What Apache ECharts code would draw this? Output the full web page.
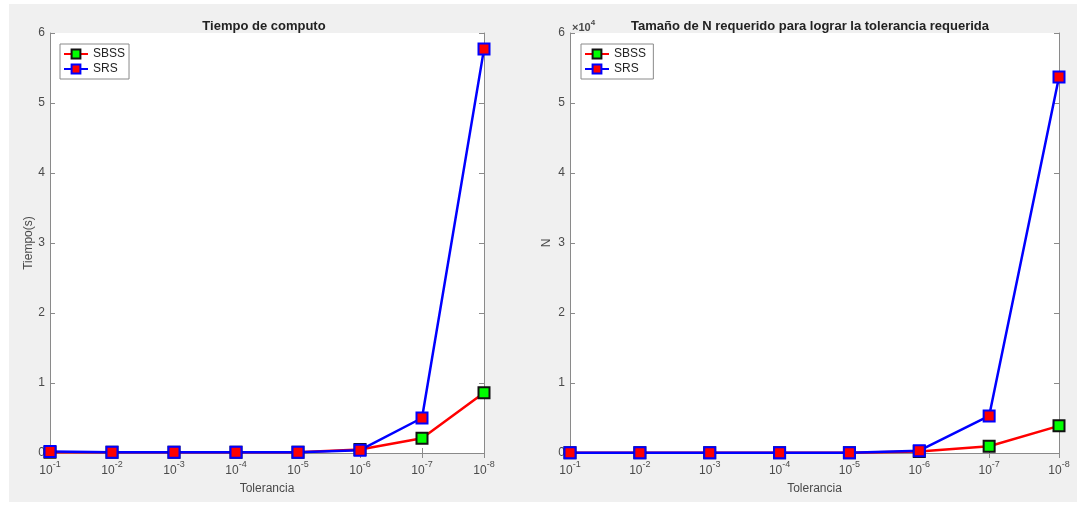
<!DOCTYPE html>
<html><head><meta charset="utf-8">
<script src="https://cdn.jsdelivr.net/npm/echarts@6/dist/echarts.min.js"></script>
<style>
html,body{margin:0;padding:0;background:#fff;}
#bg{position:absolute;left:9px;top:4px;width:1068px;height:498px;background:#f0f0f0;}
#c{position:absolute;left:0;top:0;width:1084px;height:508px;}
</style></head>
<body><div id="bg"></div><div id="c"></div>
<script>
const tolerances = ['-1','-2','-3','-4','-5','-6','-7','-8'];
const timeSBSS = [0.01, 0.01, 0.01, 0.01, 0.01, 0.05, 0.21, 0.86];
const timeSRS  = [0.02, 0.01, 0.01, 0.01, 0.01, 0.04, 0.50, 5.77];
const nSBSS = [20, 20, 20, 30, 40, 200, 960, 3880];
const nSRS  = [20, 20, 20, 30, 40, 330, 5300, 53700];
const timeTicks = [0, 1, 2, 3, 4, 5, 6];
const nTicks = [0, 1, 2, 3, 4, 5, 6];

const axisGray = '#8a8a8a';
const txt = '#4a4a4a';
const font = 'Liberation Sans, Arial, sans-serif';

const chart = echarts.init(document.getElementById('c'), null, {renderer:'canvas'});

function xCat(gi, show) {
  return {
    type: 'category', gridIndex: gi, data: tolerances, boundaryGap: false,
    position: show ? 'bottom' : 'top',
    axisLine: {show: true, lineStyle: {color: axisGray, width: 1}},
    axisTick: {show: true, inside: true, length: 5, interval: 0, lineStyle: {color: axisGray}},
    axisLabel: show ? {
      show: true, interval: 0, margin: 7, color: txt, fontFamily: font, fontSize: 12,
      formatter: v => '{b|10}{s|' + v + '}',
      rich: {b: {fontSize: 12, color: txt, fontFamily: font, verticalAlign: 'bottom', lineHeight: 17},
             s: {fontSize: 9, color: txt, fontFamily: font, verticalAlign: 'top', lineHeight: 17}}
    } : {show: false},
    splitLine: {show: false},
    name: show ? 'Tolerancia' : '', nameLocation: 'middle', nameGap: 30,
    nameTextStyle: {color: txt, fontFamily: font, fontSize: 12}
  };
}
function yVal(gi, show, max, interval, div, name, gap) {
  return {
    type: 'value', gridIndex: gi, min: 0, max: max, interval: interval,
    position: show ? 'left' : 'right',
    axisLine: {show: true, lineStyle: {color: axisGray, width: 1}},
    axisTick: {show: true, inside: true, length: 5, lineStyle: {color: axisGray}},
    axisLabel: show ? {show: true, color: txt, fontFamily: font, fontSize: 12, margin: 5,
      formatter: v => String(Math.round(v / div))} : {show: false},
    splitLine: {show: false},
    name: show ? name : '', nameLocation: 'middle', nameGap: gap, nameRotate: 90,
    nameTextStyle: {color: txt, fontFamily: font, fontSize: 12}
  };
}
function series(name, data, xi, yi, lineColor, fill, border) {
  return {
    name: name, type: 'line', data: data, xAxisIndex: xi, yAxisIndex: yi,
    symbol: 'rect', symbolSize: 11, showSymbol: true,
    lineStyle: {color: lineColor, width: 2.5},
    itemStyle: {color: fill, borderColor: border, borderWidth: 2},
    emphasis: {disabled: true}, animation: false
  };
}
const legendBase = {top: 44, orient: 'vertical', itemWidth: 24, itemHeight: 11, itemGap: 3,
  backgroundColor: '#fff', borderColor: '#8a8a8a', borderWidth: 1, padding: [4, 4, 4, 3],
  textStyle: {color: '#222', fontFamily: font, fontSize: 12}};

chart.setOption({
  animation: false,
  title: [
    {text: 'Tiempo de computo', left: 259, top: 15, textAlign: 'center',
     textStyle: {fontFamily: font, fontSize: 13, fontWeight: 'bold', color: '#222'}},
    {text: 'Tamaño de N requerido para lograr la tolerancia requerida', left: 805, top: 15, textAlign: 'center',
     textStyle: {fontFamily: font, fontSize: 13, fontWeight: 'bold', color: '#222'}},
    {text: '{a|×10}{s|4}', left: 567, top: 14,
     textStyle: {rich: {a: {fontFamily: font, fontSize: 11, color: txt, verticalAlign: 'bottom', lineHeight: 14},
                        s: {fontFamily: font, fontSize: 8, color: txt, verticalAlign: 'top', lineHeight: 14}}}}
  ],
  legend: [
    Object.assign({left: 60, data: ['SBSS', 'SRS']}, legendBase),
    Object.assign({left: 581, data: ['SBSS ', 'SRS ']}, legendBase)
  ],
  grid: [
    {left: 50, top: 33, width: 434, height: 420, show: true, backgroundColor: '#fff', borderWidth: 0},
    {left: 570, top: 33, width: 489, height: 420, show: true, backgroundColor: '#fff', borderWidth: 0}
  ],
  xAxis: [xCat(0, true), xCat(0, false), xCat(1, true), xCat(1, false)],
  yAxis: [
    yVal(0, true, timeTicks[timeTicks.length-1], 1, 1, 'Tiempo(s)', 12),
    yVal(0, false, timeTicks[timeTicks.length-1], 1, 1, '', 0),
    yVal(1, true, nTicks[nTicks.length-1]*1e4, 1e4, 1e4, 'N', 17),
    yVal(1, false, nTicks[nTicks.length-1]*1e4, 1e4, 1e4, '', 0)
  ],
  series: [
    series('SBSS', timeSBSS, 0, 0, '#ff0000', '#00ff00', '#111111'),
    series('SRS', timeSRS, 0, 0, '#0000ff', '#ff0000', '#0000ff'),
    series('SBSS ', nSBSS, 2, 2, '#ff0000', '#00ff00', '#111111'),
    series('SRS ', nSRS, 2, 2, '#0000ff', '#ff0000', '#0000ff')
  ]
});
</script></body></html>
